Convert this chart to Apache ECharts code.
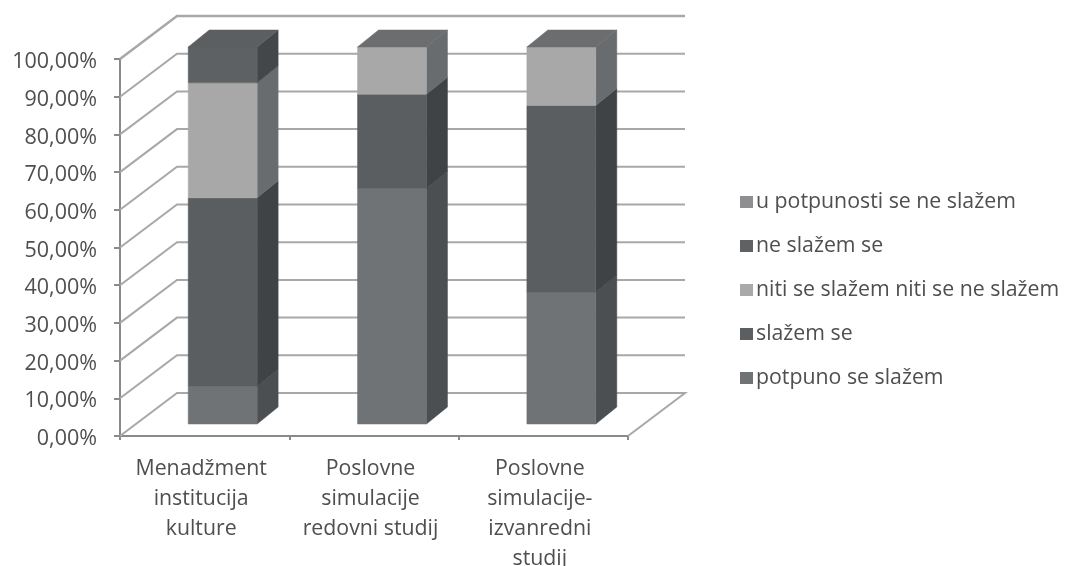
<!DOCTYPE html>
<html>
<head>
<meta charset="utf-8">
<style>html,body{margin:0;padding:0;background:#fff}#chart{width:1071px;height:566px}</style>
<script src="https://cdn.jsdelivr.net/npm/echarts@6/dist/echarts.min.js"></script>
</head>
<body>
<div id="chart"></div>
<script>
// Share of answers per course, in percent
const categories = ['Menadžment\ninstitucija\nkulture', 'Poslovne\nsimulacije\nredovni studij', 'Poslovne\nsimulacije-\nizvanredni\nstudij'];
const potpuno = [10, 62.5, 35];
const slazem = [50, 25, 49.5];
const niti = [30.5, 12.5, 15.5];
const neSlazem = [9.5, 0, 0];
const uPotpunosti = [0, 0, 0];
const valueTicks = [0, 10, 20, 30, 40, 50, 60, 70, 80, 90, 100];
const seriesNames = ['potpuno se slažem', 'slažem se', 'niti se slažem niti se ne slažem', 'ne slažem se', 'u potpunosti se ne slažem'];

// Pseudo-3D projection of the plot box: how far the back wall and the bars are shifted
const WALL_DX = 57, WALL_DY = -43;
const BAR_INSET_DX = 18, BAR_INSET_DY = -12;
const BAR_DX = 21, BAR_DY = -17;
const BAR_SHARE = 0.407;

// front, side and top face colours of each answer
const faces = [
  { front: '#6f7375', side: '#4b4f52', top: '#6c6d6f', legend: '#6f7375' },
  { front: '#5a5e61', side: '#3f4346', top: '#5c5f62', legend: '#5c5f62' },
  { front: '#a9a8a9', side: '#686c6f', top: '#6c6d6f', legend: '#a9a9a9' },
  { front: '#5d6163', side: '#43474a', top: '#5c5f62', legend: '#5f6163' },
  { front: '#8c8d8f', side: '#6a6c6e', top: '#77787a', legend: '#8f8f91' }
];

const columns = [potpuno, slazem, niti, neSlazem, uPotpunosti];
const totals = categories.map((_, i) => columns.reduce((s, c) => s + c[i], 0));

function stackedRows(k) {
  return categories.map((_, i) => {
    let start = 0;
    for (let j = 0; j < k; j++) start += columns[j][i];
    return [i, start, start + columns[k][i]];
  });
}

function poly(points, fill) {
  return { type: 'polygon', shape: { points }, style: { fill, stroke: fill, lineWidth: 0.5 } };
}

function renderSegment(k) {
  return function (params, api) {
    const i = api.value(0), start = api.value(1), end = api.value(2);
    if (end <= start) return { type: 'group', children: [] };
    const band = api.size([1, 0])[0];
    const half = band * BAR_SHARE / 2;
    const a = api.coord([i, start]), b = api.coord([i, end]);
    const xl = a[0] - half + BAR_INSET_DX, xr = a[0] + half + BAR_INSET_DX;
    const y0 = a[1] + BAR_INSET_DY, y1 = b[1] + BAR_INSET_DY;
    const children = [
      poly([[xr, y0], [xr + BAR_DX, y0 + BAR_DY], [xr + BAR_DX, y1 + BAR_DY], [xr, y1]], faces[k].side),
      poly([[xl, y0], [xr, y0], [xr, y1], [xl, y1]], faces[k].front)
    ];
    if (end >= totals[i] - 1e-6) {
      children.push(poly([[xl, y1], [xr, y1], [xr + BAR_DX, y1 + BAR_DY], [xl + BAR_DX, y1 + BAR_DY]], faces[k].top));
    }
    return { type: 'group', children };
  };
}

// Gridlines run along the left wall and across the back wall; the zero line also closes the floor
function renderWall(params, api) {
  const v = api.value(0);
  const band = api.size([1, 0])[0];
  const left = api.coord([0, v]);
  const right = api.coord([categories.length - 1, v]);
  const xl = left[0] - band / 2, xr = right[0] + band / 2, y = left[1];
  const pts = v === 0
    ? [[xl, y], [xl + WALL_DX, y + WALL_DY], [xr + WALL_DX, y + WALL_DY], [xr, y]]
    : [[xl, y], [xl + WALL_DX, y + WALL_DY], [xr + WALL_DX, y + WALL_DY]];
  return {
    type: 'polyline',
    shape: { points: pts },
    style: { fill: 'none', stroke: '#a8a8a8', lineWidth: v === 100 ? 2.5 : 2 }
  };
}

const series = [{
  type: 'custom',
  silent: true,
  clip: false,
  z: 1,
  legendHoverLink: false,
  renderItem: renderWall,
  encode: { y: 0 },
  data: valueTicks.map(v => [v])
}];
seriesNames.forEach((name, k) => {
  series.push({
    name,
    type: 'custom',
    clip: false,
    z: 3 + k,
    itemStyle: { color: faces[k].legend },
    renderItem: renderSegment(k),
    encode: { x: 0, y: [1, 2] },
    data: stackedRows(k)
  });
});

const chart = echarts.init(document.getElementById('chart'), null, { renderer: 'canvas' });
chart.setOption({
  animation: false,
  backgroundColor: '#ffffff',
  textStyle: { fontFamily: 'Open Sans' },
  grid: { left: 120, top: 59, width: 508, height: 377, containLabel: false, outerBoundsMode: 'none' },
  legend: {
    orient: 'vertical',
    left: 735,
    top: 183,
    itemGap: 16,
    itemWidth: 13,
    itemHeight: 12,
    icon: 'rect',
    selectedMode: false,
    data: seriesNames.slice().reverse(),
    textStyle: { fontSize: 21.3, fontFamily: 'Open Sans', color: '#4f4f4f', lineHeight: 28, padding: [0, 0, 0, -2] }
  },
  xAxis: {
    type: 'category',
    data: categories,
    boundaryGap: true,
    axisLine: { show: true, lineStyle: { color: '#8a8a8a', width: 2 } },
    axisTick: { show: true, alignWithLabel: false, length: 4, lineStyle: { color: '#8a8a8a', width: 2 } },
    axisLabel: { interval: 0, fontSize: 21.3, fontFamily: 'Open Sans', color: '#4f4f4f', lineHeight: 30, margin: 18, padding: [0, 7, 0, 0] }
  },
  yAxis: {
    type: 'value',
    min: 0,
    max: 100,
    interval: 10,
    splitLine: { show: false },
    axisLine: { show: true, lineStyle: { color: '#8a8a8a', width: 2 } },
    axisTick: { show: true, length: 6, lineStyle: { color: '#8a8a8a', width: 2 } },
    axisLabel: {
      fontSize: 21.5,
      fontFamily: 'Open Sans',
      color: '#4f4f4f',
      margin: 23,
      verticalAlign: 'top',
      lineHeight: 6,
      formatter: v => v.toFixed(2).replace('.', ',') + '%'
    }
  },
  series
});
</script>
</body>
</html>
